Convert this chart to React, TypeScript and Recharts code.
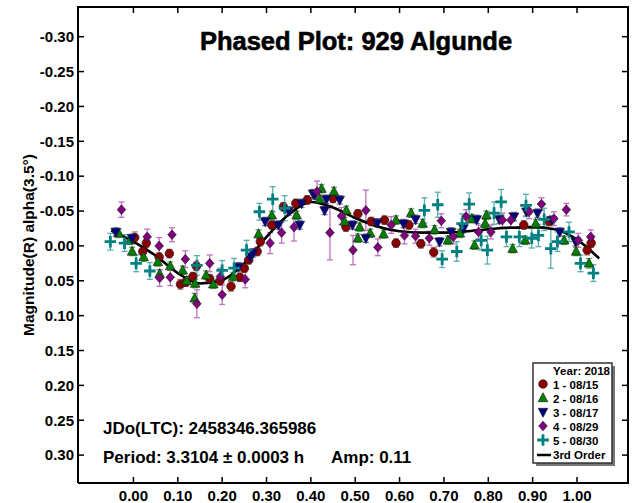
import React from 'react';
import { ComposedChart, Scatter, Line, XAxis, YAxis, ErrorBar } from 'recharts';

// phase, magnitude, error
const X_TICKS = [0, 0.1, 0.2, 0.3, 0.4, 0.5, 0.6, 0.7, 0.8, 0.9, 1.0];
const Y_TICKS = [-0.3, -0.25, -0.2, -0.15, -0.1, -0.05, 0, 0.05, 0.1, 0.15, 0.2, 0.25, 0.3];
const X_DOMAIN: [number, number] = [-0.125, 1.115];
const Y_DOMAIN: [number, number] = [-0.3426, 0.34];

const S1_0815: [number, number, number][] = [
  [0.003, -0.012, 0.008], [0.021, 0.008, 0.006], [0.029, -0.004, 0.006], [0.058, 0.016, 0.006],
  [0.081, 0.011, 0.006], [0.106, 0.055, 0.007], [0.118, 0.052, 0.006], [0.134, 0.044, 0.006],
  [0.142, 0.029, 0.006], [0.172, 0.047, 0.006], [0.195, 0.05, 0.006], [0.22, 0.058, 0.007],
  [0.24, 0.045, 0.006], [0.25, 0.032, 0.006], [0.26, 0.02, 0.006], [0.279, 0.008, 0.006],
  [0.286, -0.006, 0.006], [0.312, -0.03, 0.006], [0.338, -0.056, 0.006], [0.366, -0.061, 0.006],
  [0.392, -0.066, 0.006], [0.45, -0.068, 0.006], [0.479, -0.027, 0.006], [0.506, -0.046, 0.006],
  [0.536, -0.035, 0.006], [0.566, -0.037, 0.006], [0.592, -0.004, 0.006], [0.621, -0.03, 0.006],
  [0.648, -0.003, 0.006], [0.677, 0.009, 0.007], [0.88, -0.03, 0.006], [0.937, -0.035, 0.006],
  [1.023, 0.006, 0.007], [1.032, -0.004, 0.006],
];

const S2_0816: [number, number, number][] = [
  [-0.033, -0.018, 0.006], [-0.008, -0.008, 0.006], [-0.003, 0.008, 0.006], [0.023, 0.016, 0.006],
  [0.055, 0.023, 0.006], [0.059, 0.04, 0.006], [0.083, 0.029, 0.006], [0.111, 0.035, 0.006],
  [0.12, 0.05, 0.006], [0.138, 0.075, 0.007], [0.139, 0.054, 0.006], [0.164, 0.042, 0.006],
  [0.18, 0.055, 0.006], [0.225, 0.044, 0.006], [0.282, -0.017, 0.006], [0.312, -0.044, 0.006],
  [0.368, -0.044, 0.006], [0.42, -0.067, 0.006], [0.424, -0.082, 0.006], [0.452, -0.078, 0.006],
  [0.476, -0.035, 0.006], [0.48, -0.051, 0.006], [0.506, -0.011, 0.006], [0.51, -0.027, 0.006],
  [0.534, -0.018, 0.006], [0.564, -0.017, 0.006], [0.592, -0.037, 0.006], [0.626, -0.047, 0.006],
  [0.652, -0.032, 0.006], [0.679, -0.023, 0.006], [0.709, -0.008, 0.006], [0.736, -0.018, 0.006],
  [0.763, -0.039, 0.006], [0.769, -0.001, 0.006], [0.793, -0.032, 0.006], [0.796, -0.044, 0.006],
  [0.855, 0.004, 0.006], [0.883, -0.008, 0.006], [0.907, -0.032, 0.006], [0.971, -0.008, 0.006],
  [0.998, 0.008, 0.006], [1.027, 0.025, 0.007],
];

const S3_0817: [number, number, number][] = [
  [-0.04, -0.02, 0.006], [-0.003, -0.011, 0.006], [0.237, 0.03, 0.006], [0.263, 0.016, 0.006],
  [0.27, 0.01, 0.006], [0.297, -0.035, 0.006], [0.327, -0.03, 0.006], [0.35, -0.05, 0.006],
  [0.375, -0.03, 0.006], [0.379, -0.061, 0.006], [0.405, -0.075, 0.006], [0.409, -0.073, 0.006],
  [0.431, -0.051, 0.006], [0.435, -0.067, 0.006], [0.465, -0.066, 0.006], [0.494, -0.03, 0.006],
  [0.524, -0.011, 0.006], [0.55, -0.033, 0.006], [0.609, -0.032, 0.006], [0.636, -0.038, 0.006],
  [0.69, -0.006, 0.006], [0.716, -0.02, 0.006], [0.744, -0.025, 0.006], [0.774, -0.038, 0.006],
  [0.825, -0.038, 0.006], [0.858, -0.042, 0.006], [0.886, -0.049, 0.006], [0.911, -0.047, 0.006],
  [0.943, -0.037, 0.006], [0.961, -0.02, 0.006], [0.997, -0.006, 0.006],
];

const S4_0829: [number, number, number][] = [
  [-0.027, -0.052, 0.011], [0.031, -0.013, 0.011], [0.058, 0.0, 0.012], [0.059, 0.046, 0.012],
  [0.083, 0.045, 0.012], [0.087, -0.016, 0.01], [0.117, 0.019, 0.012], [0.143, 0.083, 0.02],
  [0.172, 0.025, 0.012], [0.196, 0.044, 0.012], [0.2, 0.07, 0.014], [0.252, 0.048, 0.012],
  [0.308, -0.004, 0.015], [0.334, -0.019, 0.015], [0.362, -0.027, 0.02], [0.414, -0.078, 0.015],
  [0.443, -0.019, 0.039], [0.469, -0.043, 0.012], [0.495, 0.006, 0.021], [0.524, -0.051, 0.029],
  [0.551, 0.002, 0.012], [0.581, -0.03, 0.012], [0.611, -0.015, 0.012], [0.636, -0.014, 0.01],
  [0.667, -0.011, 0.01], [0.694, -0.036, 0.01], [0.721, -0.013, 0.01], [0.75, -0.042, 0.01],
  [0.778, -0.02, 0.01], [0.806, -0.02, 0.01], [0.832, -0.037, 0.01], [0.851, -0.037, 0.01],
  [0.892, -0.049, 0.01], [0.92, -0.06, 0.009], [0.948, -0.039, 0.01], [0.976, -0.052, 0.009],
  [1.003, -0.008, 0.01], [1.031, -0.013, 0.01],
];

const S5_0830: [number, number, number][] = [
  [-0.052, -0.006, 0.012], [-0.02, -0.004, 0.012], [0.006, 0.025, 0.012], [0.037, 0.036, 0.012],
  [0.143, 0.028, 0.014], [0.2, 0.035, 0.014], [0.227, 0.032, 0.014], [0.255, 0.006, 0.014],
  [0.284, -0.049, 0.012], [0.314, -0.067, 0.018], [0.341, -0.054, 0.018], [0.656, -0.051, 0.018],
  [0.686, -0.059, 0.018], [0.696, 0.019, 0.012], [0.729, 0.008, 0.014], [0.741, -0.032, 0.014],
  [0.757, -0.06, 0.016], [0.784, -0.008, 0.014], [0.798, 0.006, 0.02], [0.813, -0.047, 0.016],
  [0.829, -0.063, 0.018], [0.841, -0.013, 0.014], [0.87, -0.013, 0.014], [0.885, -0.058, 0.016],
  [0.898, -0.011, 0.014], [0.913, -0.015, 0.016], [0.926, -0.038, 0.016], [0.941, 0.004, 0.028],
  [0.956, -0.006, 0.014], [0.982, -0.02, 0.014], [1.008, 0.025, 0.012], [1.037, 0.039, 0.012],
];

const FIT_PHASE = [-0.05, 0, 0.05, 0.1, 0.15, 0.2, 0.25, 0.3, 0.35, 0.4, 0.45, 0.5, 0.55, 0.6, 0.65, 0.7, 0.75, 0.8, 0.85, 0.9, 0.95, 1.0, 1.05];
const FIT_MAG = [-0.022, -0.006, 0.014, 0.039, 0.054, 0.049, 0.025, -0.013, -0.045, -0.063, -0.055, -0.04, -0.028, -0.021, -0.019, -0.019, -0.021, -0.024, -0.026, -0.027, -0.024, -0.009, 0.018];

const SERIES = [
  { name: '1 - 08/15', pts: S1_0815, kind: 'circle', fill: '#8b0000', err: '#c87070' },
  { name: '2 - 08/16', pts: S2_0816, kind: 'up', fill: '#008000', err: '#5aac5a' },
  { name: '3 - 08/17', pts: S3_0817, kind: 'down', fill: '#000080', err: '#6a6ac0' },
  { name: '4 - 08/29', pts: S4_0829, kind: 'diamond', fill: '#800080', err: '#c070c0' },
  { name: '5 - 08/30', pts: S5_0830, kind: 'plus', fill: '#008080', err: '#5aaeae' },
];

const fitData = FIT_PHASE.map((p, i) => ({ phase: p, mag: FIT_MAG[i] }));

// plot box (margins + axis sizes below)
const PLOT = { left: 78, top: 7, right: 628, bottom: 483 };
const px = (t: number) => PLOT.left + ((t - X_DOMAIN[0]) / (X_DOMAIN[1] - X_DOMAIN[0])) * (PLOT.right - PLOT.left);
const py = (v: number) => PLOT.top + ((v - Y_DOMAIN[0]) / (Y_DOMAIN[1] - Y_DOMAIN[0])) * (PLOT.bottom - PLOT.top);

function Marker({ kind, cx, cy, fill }: any) {
  if (cx == null || cy == null) return null;
  if (kind === 'circle') return <circle cx={cx} cy={cy} r={4.3} fill={fill} stroke="#222" strokeWidth={0.7} />;
  if (kind === 'up')
    return <polygon points={`${cx},${cy - 5.3} ${cx + 4.8},${cy + 3.7} ${cx - 4.8},${cy + 3.7}`} fill={fill} stroke="#222" strokeWidth={0.7} />;
  if (kind === 'down')
    return <polygon points={`${cx},${cy + 5.3} ${cx + 4.8},${cy - 3.7} ${cx - 4.8},${cy - 3.7}`} fill={fill} stroke="#222" strokeWidth={0.7} />;
  if (kind === 'diamond')
    return <polygon points={`${cx},${cy - 4.8} ${cx + 4.3},${cy} ${cx},${cy + 4.8} ${cx - 4.3},${cy}`} fill={fill} stroke="#222" strokeWidth={0.7} />;
  return <path d={`M${cx - 5.8},${cy}H${cx + 5.8}M${cx},${cy - 5.8}V${cy + 5.8}`} stroke={fill} strokeWidth={2.8} fill="none" />;
}

const FONT = '"Liberation Sans", Arial, sans-serif';
const fmt = (v: number) => v.toFixed(2);
const AXIS = { stroke: '#000', strokeWidth: 2 };
const TICKLINE = { stroke: '#000', strokeWidth: 1.5 };
const TICKTEXT = { fill: '#000', fontSize: 15, fontWeight: 700, fontFamily: FONT };

export default function App() {
  return (
    <div style={{ position: 'absolute', left: 0, top: 0, width: 633, height: 503, fontFamily: FONT }}>
      <ComposedChart width={633} height={503} margin={{ top: 7, right: 5, left: 0, bottom: 0 }}>
        <XAxis
          dataKey="phase" type="number" domain={X_DOMAIN} ticks={X_TICKS}
          allowDataOverflow tickFormatter={fmt} height={20} tickSize={-6} tickMargin={13}
          axisLine={AXIS} tickLine={TICKLINE} tick={TICKTEXT}
        />
        <YAxis
          dataKey="mag" type="number" domain={Y_DOMAIN} reversed ticks={Y_TICKS}
          allowDataOverflow tickFormatter={fmt} width={78} tickSize={-6} tickMargin={10}
          axisLine={AXIS} tickLine={TICKLINE} tick={TICKTEXT}
        />
        {SERIES.map((s) => (
          <Scatter
            key={s.name} name={s.name} dataKey="mag"
            data={s.pts.map(([p, m, e]) => ({ phase: p, mag: m, err: e }))}
            isAnimationActive={false}
            shape={(props: any) => <Marker kind={s.kind} cx={props.cx} cy={props.cy} fill={s.fill} />}
          >
            <ErrorBar dataKey="err" direction="y" width={3} stroke={s.err} strokeWidth={1.3} />
          </Scatter>
        ))}
        <Line
          data={fitData} dataKey="mag" type="monotone" stroke="#000" strokeWidth={2.6}
          dot={false} activeDot={false} isAnimationActive={false}
        />
      </ComposedChart>
      <div
        style={{
          position: 'absolute', left: PLOT.left - 1, top: PLOT.top - 1, zIndex: 5, pointerEvents: 'none',
          width: PLOT.right - PLOT.left, height: PLOT.bottom - PLOT.top, borderTop: '2px solid #000', borderRight: '2px solid #000',
        }}
      />
      <svg width={633} height={503} style={{ position: 'absolute', left: 0, top: 0, zIndex: 6, pointerEvents: 'none', overflow: 'visible' }} fontFamily={FONT} fontWeight={700}>
        {X_TICKS.map((t) => (
          <line key={`tx${t}`} x1={px(t)} x2={px(t)} y1={PLOT.top} y2={PLOT.top + 6} stroke="#000" strokeWidth={1.5} />
        ))}
        {Y_TICKS.map((t) => (
          <line key={`ty${t}`} x1={PLOT.right - 6} x2={PLOT.right} y1={py(t)} y2={py(t)} stroke="#000" strokeWidth={1.5} />
        ))}
        <text x={356} y={50} fontSize={25.5} textAnchor="middle" fill="#000" stroke="#000" strokeWidth={0.6}>Phased Plot: 929 Algunde</text>
        <text transform="translate(34,245) rotate(-90)" fontSize={15.5} textAnchor="middle" fill="#000">Magnitude(R) alpha(3.5°)</text>
        <text x={103} y={434} fontSize={17} fill="#000">JDo(LTC): 2458346.365986</text>
        <text x={103} y={463} fontSize={17} fill="#000">Period: 3.3104 ± 0.0003 h</text>
        <text x={331} y={463} fontSize={17} fill="#000">Amp: 0.11</text>
        <rect x={536} y={366} width={79} height={100} fill="#777" />
        <rect x={533} y={363} width={79} height={100} fill="#fff" stroke="#333" strokeWidth={1.5} />
        <text x={610} y={375} fontSize={11.5} textAnchor="end" fill="#000">Year: 2018</text>
        {SERIES.map((s, i) => (
          <g key={s.name}>
            <Marker kind={s.kind} cx={543} cy={384 + i * 14} fill={s.fill} />
            <text x={553} y={389 + i * 14} fontSize={11.5} fill="#000">{s.name}</text>
          </g>
        ))}
        <line x1={537} x2={551} y1={455} y2={455} stroke="#000" strokeWidth={2.5} />
        <text x={553} y={459} fontSize={11.5} fill="#000">3rd Order</text>
      </svg>
    </div>
  );
}
